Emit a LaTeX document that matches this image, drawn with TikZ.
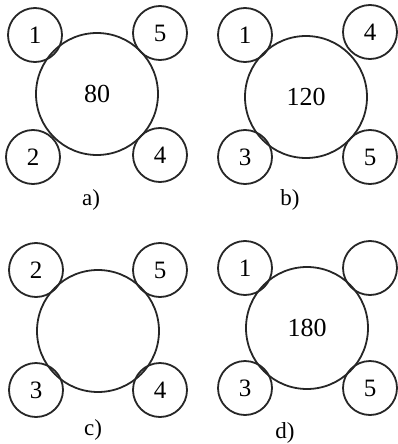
\documentclass[tikz,border=0pt]{standalone}
\usepackage{fontspec}
\setmainfont{Liberation Serif}
\begin{document}
\begin{tikzpicture}[x=1pt,y=-1pt,
  big/.style={circle,draw=black!85,line width=1.8pt,minimum size=122pt,inner sep=0pt,font=\fontsize{26}{26}\selectfont},
  small/.style={circle,draw=black!85,line width=1.8pt,minimum size=54pt,inner sep=0pt,font=\fontsize{25}{25}\selectfont},
  sublabel/.style={font=\fontsize{23}{23}\selectfont}]
\useasboundingbox (0,0) rectangle (397,444);
% a
\node[big] (a0) at (97,94) {80};
\node[small] (a1) at (35,35) {1};
\node[small] (a5) at (160,33) {5};
\node[small] (a2) at (33,157) {2};
\node[small] (a4) at (160,155) {4};
\node[sublabel] (la) at (91,200) {a)};
% b
\node[big] (b0) at (306,97) {120};
\node[small] (b1) at (245,35) {1};
\node[small] (b4) at (370,32) {4};
\node[small] (b3) at (245,157) {3};
\node[small] (b5) at (370,157) {5};
\node[sublabel] (lb) at (290,200) {b)};
% c
\node[big] (c0) at (98,331) {};
\node[small] (c2) at (36,270) {2};
\node[small] (c5) at (160,270) {5};
\node[small] (c3) at (36,390) {3};
\node[small] (c4) at (160,390) {4};
\node[sublabel] (lc) at (93,430) {c)};
% d
\node[big] (d0) at (307,328) {180};
\node[small] (d1) at (245,268) {1};
\node[small] (d4) at (370,268) {};
\node[small] (d3) at (245,388) {3};
\node[small] (d5) at (370,388) {5};
\node[sublabel] (ld) at (285,433) {d)};
\end{tikzpicture}
\end{document}
